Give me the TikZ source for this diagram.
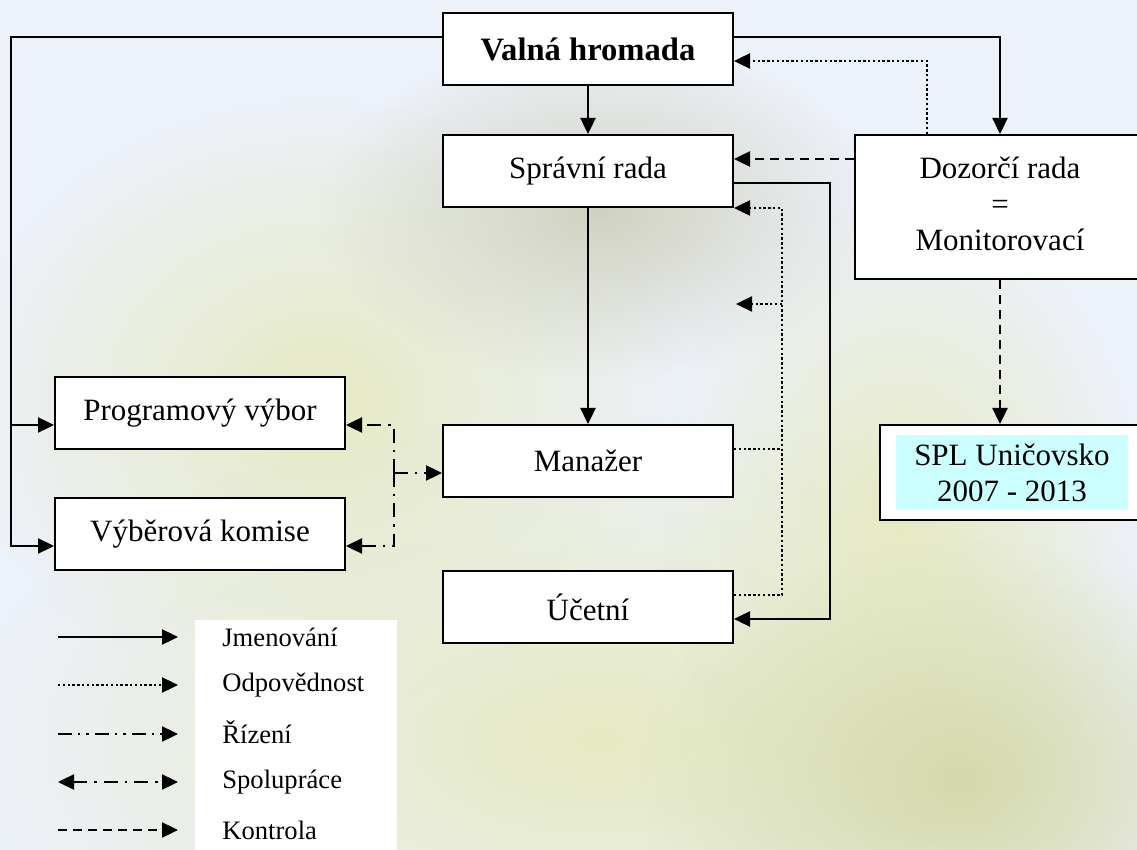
\documentclass[tikz,border=0pt]{standalone}
\usepackage{fontspec}
\setmainfont{Liberation Serif}
\usetikzlibrary{positioning,arrows.meta,fadings}
\definecolor{bgblue}{RGB}{237,241,249}
\definecolor{blobyellow}{RGB}{230,234,195}
\definecolor{blobgrey}{RGB}{208,210,192}
\definecolor{blobgreen}{RGB}{212,217,172}
\definecolor{splcyan}{RGB}{204,255,255}
\tikzfading[name=softblob, inner color=transparent!0, outer color=transparent!100]

\begin{document}
\begin{tikzpicture}[
box/.style={rectangle, draw=black, line width=1pt, fill=white, minimum width=145pt, minimum height=36pt, inner sep=2pt, font=\fontsize{15.5}{18}\selectfont},
legtext/.style={anchor=west, inner sep=0pt, font=\fontsize{13.3}{16}\selectfont},
tip/.style={-{Triangle[length=8pt,width=7.5pt]}},
jmen/.style={tip, line width=1.2pt},
odp/.style={tip, line width=1.2pt, dash pattern=on 1.2pt off 1.2pt},
rizeni/.style={tip, line width=1.2pt, dash pattern=on 7pt off 3pt on 1.2pt off 3pt on 1.2pt off 3pt},
spol/.style={tip, line width=1.2pt, dash pattern=on 7pt off 3.5pt on 1.2pt off 3.5pt},
kontr/.style={tip, line width=1.2pt, dash pattern=on 4.5pt off 3pt},
blob/.style={path fading=softblob}
]

%Background
\clip (0,0) rectangle (568.5pt,-425pt);
\fill[bgblue] (0,0) rectangle (568.5pt,-425pt);
\fill[blobyellow, blob] (160pt,-200pt) ellipse (180pt and 150pt);
\fill[blobyellow, blob] (300pt,-370pt) ellipse (320pt and 160pt);
\fill[blobgrey, blob] (300pt,-105pt) ellipse (140pt and 85pt);
\fill[blobyellow, blob] (450pt,-260pt) ellipse (120pt and 160pt);
\fill[blobgreen, blob] (480pt,-390pt) ellipse (160pt and 120pt);

%Nodes
\node[box, font=\fontsize{16.3}{18}\selectfont\bfseries] (valna) at (294pt,-24.5pt) {Valná hromada};
\node[box] (sprava) [below=24pt of valna] {Správní rada};
\node[box] (manazer) [below=108pt of sprava] {Manažer};
\node[box] (ucetni) [below=36pt of manazer] {Účetní};
\node[box, minimum height=72pt] (dozor) [anchor=north west] at ([xshift=60pt]sprava.north east) {\raisebox{2.5pt}{\begin{tabular}{@{}c@{}}Dozorčí rada\\=\\Monitorovací\end{tabular}}};
\node[box, minimum width=132pt, minimum height=47.5pt] (spl) [below=72pt of dozor, xshift=6pt] {};
\node[fill=splcyan, align=center, minimum width=116pt, minimum height=37.5pt, inner sep=1pt, font=\fontsize{15.5}{18}\selectfont] (spltext) at (spl) {SPL Uničovsko\\2007 - 2013};
\node[box] (program) [anchor=north east] at ([xshift=-48pt,yshift=24pt]manazer.north west) {Programový výbor};
\node[box] (vyber) [below=23.5pt of program] {Výběrová komise};

%Legend
\node[fill=white, minimum width=101pt, minimum height=115pt, anchor=north west] (legend) at (97.5pt,-310pt) {};
\coordinate (l_jmen_a) at (29pt,-318.5pt);
\coordinate (l_jmen_b) at (89pt,-318.5pt);
\coordinate (l_odp_a) at (29pt,-342.5pt);
\coordinate (l_odp_b) at (89pt,-342.5pt);
\coordinate (l_riz_a) at (29pt,-367pt);
\coordinate (l_riz_b) at (89pt,-367pt);
\coordinate (l_spol_a) at (29pt,-391pt);
\coordinate (l_spol_b) at (89pt,-391pt);
\coordinate (l_kontr_a) at (29pt,-415pt);
\coordinate (l_kontr_b) at (89pt,-415pt);
\node[legtext] (t_jmen) at (111pt,-318.5pt) {Jmenování};
\node[legtext] (t_odp) at (111pt,-342.5pt) {Odpovědnost};
\node[legtext] (t_riz) at (111pt,-366pt) {Řízení};
\node[legtext] (t_spol) at (111pt,-391pt) {Spolupráce};
\node[legtext] (t_kontr) at (111pt,-415pt) {Kontrola};
\draw[jmen] (l_jmen_a) -- (l_jmen_b);
\draw[odp] (l_odp_a) -- (l_odp_b);
\draw[rizeni] (l_riz_a) -- (l_riz_b);
\draw[spol, {Triangle[length=8pt,width=7.5pt]}-{Triangle[length=8pt,width=7.5pt]}] (l_spol_a) -- (l_spol_b);
\draw[kontr] (l_kontr_a) -- (l_kontr_b);

%Connections
\coordinate (rail) at (5.5pt,0);
\coordinate (program_in) at ([yshift=-6pt]program.west);
\coordinate (vyber_in) at ([yshift=-6pt]vyber.west);
\draw[jmen] ([yshift=6pt]valna.west) -| (rail |- vyber_in) -- (vyber_in);
\draw[jmen] (rail |- program_in) -- (program_in);
\draw[jmen] ([yshift=6pt]valna.east) -| (dozor.north);
\draw[odp] ([xshift=-36.5pt]dozor.north) |- ([yshift=-6pt]valna.east);
\draw[jmen] (valna.south) -- (sprava.north);

\coordinate (sprava_in) at ([yshift=6pt]sprava.east);
\draw[kontr] (sprava_in -| dozor.west) -- (sprava_in);
\draw[jmen] ([yshift=-6pt]sprava.east) -- ++(48pt,0) |- ([yshift=-6pt]ucetni.east);

\draw[line width=1.2pt, dash pattern=on 1.2pt off 1.2pt] ([yshift=6pt]manazer.east) -- ++(24pt,0);
\draw[odp] ([yshift=6pt]ucetni.east) -- ++(24pt,0) |- (sprava.south east);
\coordinate (odp_free) at ([xshift=1pt,yshift=-48pt]sprava.south east);
\draw[odp] ([xshift=23pt]odp_free) -- (odp_free);

\draw[jmen] (sprava.south) -- (manazer.north);
\draw[kontr] (dozor.south) -- (dozor.south |- spl.north);

\coordinate (spol_j) at ([xshift=-24pt,yshift=-6pt]manazer.west);
\draw[spol] (spol_j) -- ([yshift=-6pt]manazer.west);
\draw[spol] (spol_j) |- ([yshift=-6pt]program.east);
\draw[spol] (spol_j) |- ([yshift=-6pt]vyber.east);
\end{tikzpicture}
\end{document}
